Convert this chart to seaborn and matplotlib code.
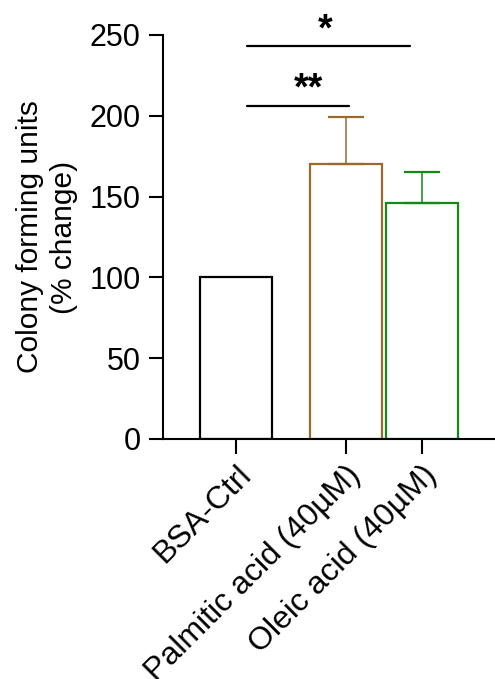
import matplotlib
matplotlib.use("Agg")
import matplotlib.pyplot as plt
import seaborn as sns
import pandas as pd

# Group means and upper SEM (% change vs BSA control)
groups = ["BSA-Ctrl", "Palmitic acid (40µM)", "Oleic acid (40µM)"]
means = [100, 170, 146]
sem = [0, 29, 19]
edge_colors = ["#000000", "#9A6A2A", "#138A13"]

sns.set_theme(style="ticks")
plt.rcParams["font.family"] = ["Liberation Sans", "DejaVu Sans"]
plt.rcParams.update({
    "text.color": "black",
    "axes.labelcolor": "black",
    "axes.edgecolor": "black",
    "xtick.color": "black",
    "ytick.color": "black",
})

# bar centres on the category axis (uneven spacing, as in the layout)
xpos = [0.0, 1.447, 2.447]

df = pd.DataFrame({"x": xpos, "group": groups, "value": means})

fig = plt.figure(figsize=(4.95, 6.79), dpi=100)
ax = fig.add_axes([0.3293, 0.3535, 0.6707, 0.595])

sns.barplot(data=df, x="x", y="value", hue="group", palette=edge_colors,
            native_scale=True, dodge=False, fill=False, width=0.947,
            linewidth=1.6, errorbar=None, legend=False, ax=ax)

# upper-only error bars
for x, m, e, c in zip(xpos, means, sem, edge_colors):
    if e > 0:
        ax.errorbar(x, m, yerr=[[0], [e]], fmt="none", ecolor=c,
                    elinewidth=1.1, capsize=13, capthick=1.6, zorder=3)

ax.set_xlim(-0.96, 3.41)
ax.set_ylim(0, 250)
ax.set_yticks([0, 50, 100, 150, 200, 250])
ax.set_xticks(xpos)
ax.set_xticklabels(groups, rotation=45, ha="right", rotation_mode="anchor",
                   fontsize=23)
ax.tick_params(axis="y", labelsize=22, length=10, width=1.5, pad=6)
ax.tick_params(axis="x", length=11, width=1.5, pad=4)
ax.set_xlabel("")
ax.set_ylabel("Colony forming units\n(% change)", fontsize=21.5, labelpad=8,
              linespacing=1.3)
sns.despine(ax=ax)
for s in ["left", "bottom"]:
    ax.spines[s].set_linewidth(1.5)
ax.spines["left"].set_bounds(0, 250)

# significance brackets
ax.plot([0.145, 2.29], [243, 243], color="black", lw=1.6, clip_on=False)
ax.plot([0.145, 1.487], [206, 206], color="black", lw=1.6, clip_on=False)
ax.text(1.18, 253, "*", ha="center", va="center", fontsize=27,
        fontweight="bold", clip_on=False)
ax.text(0.96, 216, "**", ha="center", va="center", fontsize=27,
        fontweight="bold", clip_on=False)

fig.savefig("out.png", dpi=100)
